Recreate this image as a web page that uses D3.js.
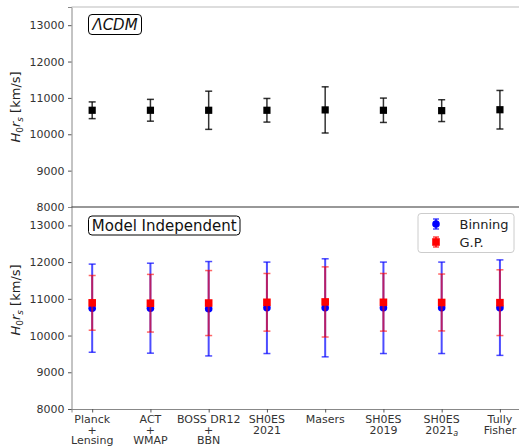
<!DOCTYPE html>
<html><head><meta charset="utf-8">
<script src="https://cdn.jsdelivr.net/npm/d3@7"></script>
<style>body{margin:0;background:#fff}svg{display:block;font-family:"DejaVu Sans",sans-serif}</style>
</head><body><svg id="c" width="519" height="446"></svg>
<script>
const categories = [["Planck","+","Lensing"],["ACT","+","WMAP"],["BOSS DR12","+","BBN"],["SH0ES","2021"],["Masers"],["SH0ES","2019"],["SH0ES","2021_a"],["Tully","Fisher"]];
const lcdmVal = [10660,10660,10660,10660,10670,10660,10650,10675];
const lcdmErr = [230,300,525,325,635,335,300,530];
const binVal = [10745,10745,10730,10755,10755,10755,10755,10760];
const binErr = [1200,1225,1285,1245,1335,1245,1245,1300];
const gpVal = [10890,10880,10885,10905,10915,10905,10900,10895];
const gpErr = [745,785,885,785,955,785,775,895];
const yTicks = [8000,9000,10000,11000,12000,13000];

const svg = d3.select("#c");
const L = 71.5, R = 520.6;
const x = d3.scaleLinear().domain([-0.355, 7.355]).range([L, R]);
const yTop = d3.scaleLinear().domain([8000,13500]).range([207,7]);
const yBot = d3.scaleLinear().domain([8000,13500]).range([409,207]);
const idx = d3.range(categories.length);

function yAxis(y){
  const g = svg.append("g").attr("transform",`translate(${L},0)`)
    .call(d3.axisLeft(y).tickValues(yTicks).tickSize(3.5).tickPadding(3.5).tickFormat(d3.format("d")));
  g.select(".domain").attr("stroke","#888").attr("stroke-width",1);
  g.selectAll(".tick line").attr("stroke","#555");
  g.selectAll("text").attr("font-size",11).attr("fill","#333").attr("font-family","DejaVu Sans");
}
yAxis(yTop); yAxis(yBot);

// spines
svg.append("line").attr("x1",L).attr("x2",519).attr("y1",7).attr("y2",7).attr("stroke","#bbb").attr("stroke-width",1);
svg.append("line").attr("x1",L).attr("x2",519).attr("y1",207).attr("y2",207).attr("stroke","#333").attr("stroke-width",1.2);

// bottom x axis
const gx = svg.append("g").attr("transform","translate(0,409)")
  .call(d3.axisBottom(x).tickValues(idx).tickSize(3.5).tickFormat(""));
gx.select(".domain").attr("stroke","#888");
gx.selectAll(".tick line").attr("stroke","#555");
idx.forEach(i=>{
  categories[i].forEach((t,k)=>{
    const tx = svg.append("text").attr("x",x(i)).attr("y",423+k*10.6).attr("text-anchor","middle")
      .attr("font-size",11).attr("fill","#333");
    if(t.includes("_")){
      const [a,b]=t.split("_");
      tx.append("tspan").text(a);
      tx.append("tspan").attr("font-size",8).attr("dy",2.5).attr("font-style","italic").text(b);
    } else tx.text(t);
  });
});

function errbars(y, vals, errs, color, op, w, cap){
  const g = svg.append("g").attr("stroke",color).attr("stroke-opacity",op).attr("stroke-width",w);
  idx.forEach(i=>{
    const cx=x(i), t=y(vals[i]+errs[i]), b=y(vals[i]-errs[i]);
    g.append("line").attr("x1",cx).attr("x2",cx).attr("y1",t).attr("y2",b);
    g.append("line").attr("x1",cx-cap).attr("x2",cx+cap).attr("y1",t).attr("y2",t).attr("stroke-width",1.5);
    g.append("line").attr("x1",cx-cap).attr("x2",cx+cap).attr("y1",b).attr("y2",b).attr("stroke-width",1.5);
  });
}
// top panel
errbars(yTop, lcdmVal, lcdmErr, "#000", 0.8, 1.5, 3.5);
svg.append("g").selectAll("rect").data(idx).join("rect")
  .attr("x",i=>x(i)-3.6).attr("y",i=>yTop(lcdmVal[i])-3.6).attr("width",7.2).attr("height",7.2).attr("fill","#000");

// bottom panel
errbars(yBot, binVal, binErr, "#0000ff", 0.7, 2, 3.5);
svg.append("g").selectAll("circle").data(idx).join("circle")
  .attr("cx",i=>x(i)).attr("cy",i=>yBot(binVal[i])).attr("r",3.8).attr("fill","#0000ff");
errbars(yBot, gpVal, gpErr, "#ff0000", 0.6, 2, 3.5);
svg.append("g").selectAll("rect").data(idx).join("rect")
  .attr("x",i=>x(i)-3.8).attr("y",i=>yBot(gpVal[i])-3.8).attr("width",7.6).attr("height",7.6).attr("fill","#ff0000");

// text boxes
function box(xx, yy, w, h, txt, italic){
  svg.append("rect").attr("x",xx).attr("y",yy).attr("width",w).attr("height",h).attr("rx",3.5)
    .attr("fill","#fff").attr("stroke","#000").attr("stroke-width",1);
  svg.append("text").attr("x",xx+w/2).attr("y",yy+h/2+5.3).attr("text-anchor","middle")
    .attr("font-size",15).attr("font-style",italic?"italic":"normal").attr("fill","#111").text(txt);
}
box(88.5, 14.5, 53, 20, "\u039BCDM", true);
box(88.5, 216, 151.5, 19, "Model Independent", false);

// legend
svg.append("rect").attr("x",418).attr("y",213.5).attr("width",96).attr("height",39).attr("rx",3)
  .attr("fill","#fff").attr("stroke","#ccc");
[[ "Binning","#0000ff",224,"c"],["G.P.","#ff0000",242,"s"]].forEach(([t,c,yy,m])=>{
  const lx=436;
  svg.append("line").attr("x1",lx).attr("x2",lx).attr("y1",yy-5).attr("y2",yy+5).attr("stroke",c).attr("stroke-width",2).attr("stroke-opacity",0.7);
  svg.append("line").attr("x1",lx-3).attr("x2",lx+3).attr("y1",yy-5).attr("y2",yy-5).attr("stroke",c).attr("stroke-width",1.5).attr("stroke-opacity",0.7);
  svg.append("line").attr("x1",lx-3).attr("x2",lx+3).attr("y1",yy+5).attr("y2",yy+5).attr("stroke",c).attr("stroke-width",1.5).attr("stroke-opacity",0.7);
  if(m==="c") svg.append("circle").attr("cx",lx).attr("cy",yy).attr("r",3.8).attr("fill",c);
  else svg.append("rect").attr("x",lx-3.8).attr("y",yy-3.8).attr("width",7.6).attr("height",7.6).attr("fill",c);
  svg.append("text").attr("x",459.5).attr("y",yy+4.5).attr("font-size",13).attr("fill","#222").text(t);
});

// y labels
function ylab(cy){
  const t = svg.append("text").attr("transform",`translate(20,${cy}) rotate(-90)`).attr("text-anchor","middle")
    .attr("font-size",13).attr("fill","#222");
  t.append("tspan").attr("font-style","italic").text("H");
  t.append("tspan").attr("font-size",9).attr("dy",3).text("0");
  t.append("tspan").attr("font-style","italic").attr("dy",-3).text("r");
  t.append("tspan").attr("font-size",9).attr("font-style","italic").attr("dy",3).text("s");
  t.append("tspan").attr("dy",-3).text(" [km/s]");
}
ylab(107); ylab(300);
</script></body></html>
